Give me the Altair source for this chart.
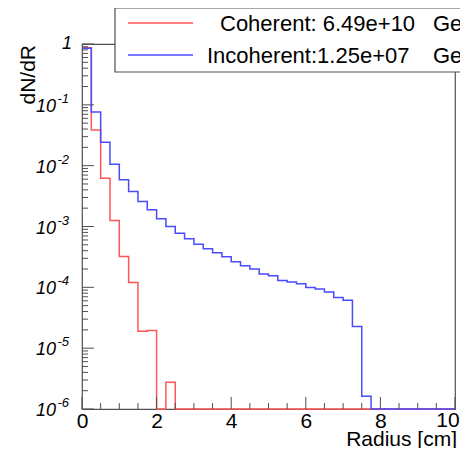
import altair as alt
import pandas as pd

# ---- data (bin width 0.25 cm, 0..10 cm) ----
bin_edges = [0.0, 0.25, 0.5, 0.75, 1.0, 1.25, 1.5, 1.75, 2.0, 2.25, 2.5, 2.75, 3.0, 3.25,
             3.5, 3.75, 4.0, 4.25, 4.5, 4.75, 5.0, 5.25, 5.5, 5.75, 6.0, 6.25, 6.5, 6.75,
             7.0, 7.25, 7.5, 7.75, 8.0, 8.25, 8.5, 8.75, 9.0, 9.25, 9.5, 9.75, 10.0]
coherent = [0.87, 0.0387, 0.00623, 0.00126, 3.21e-4, 1.20e-4, 1.89e-5, 1.96e-5, 0, 2.75e-6,
            0, 0, 0, 0, 0, 0, 0, 0, 0, 0,
            0, 0, 0, 0, 0, 0, 0, 0, 0, 0,
            0, 0, 0, 0, 0, 0, 0, 0, 0, 0]
incoherent = [0.85, 0.0764, 0.0242, 0.0106, 0.00585, 0.00376, 0.00258, 0.00188, 0.00134, 0.00100,
              7.73e-4, 6.28e-4, 5.10e-4, 4.30e-4, 3.70e-4, 3.18e-4, 2.63e-4, 2.26e-4, 2.00e-4, 1.65e-4,
              1.55e-4, 1.30e-4, 1.22e-4, 1.15e-4, 9.95e-5, 9.37e-5, 8.37e-5, 6.83e-5, 6.13e-5, 2.28e-5,
              1.62e-6, 0, 0, 0, 0, 0, 0, 0, 0, 0]
x_tick_labels = [0, 2, 4, 6, 8, 10]
x_minor_ticks = [0.5, 1.0, 1.5, 2.5, 3.0, 3.5, 4.5, 5.0, 5.5, 6.5, 7.0, 7.5, 8.5, 9.0, 9.5]
y_decades = [1, 1e-1, 1e-2, 1e-3, 1e-4, 1e-5, 1e-6]
y_exponents = ["", "-1", "-2", "-3", "-4", "-5", "-6"]
y_floor = 1e-6

legend_labels = ["Coherent: 6.49e+10", "Incoherent:1.25e+07"]

FONT = "Liberation Sans, Arial, Helvetica, sans-serif"
W, H = 373, 365
RED = "#ff5656"
BLUE = "#4a4aff"
AX = "#505050"


def hist_frame(vals, name):
    ys = [max(v, y_floor) for v in vals] + [max(vals[-1], y_floor)]
    return pd.DataFrame({"x": bin_edges, "y": ys, "s": name})


xscale = alt.Scale(domain=[0, 10], nice=False, zero=False)
yscale = alt.Scale(type="log", domain=[1e-6, 1], nice=False)

red_df = hist_frame(coherent, "Coherent")
blue_df = hist_frame(incoherent, "Incoherent")

x_axis = alt.Axis(values=x_tick_labels[:-1], format="d", ticks=False, domain=False, grid=False,
                  labelFontSize=21, labelFont=FONT, labelColor="black", labelPadding=1,
                  title=None, labelFlush=False)
y_axis = alt.Axis(labels=False, ticks=False, domain=False, grid=False, title=None)

red_line = alt.Chart(red_df).mark_line(interpolate="step-after", color=RED, strokeWidth=1.5).encode(
    x=alt.X("x:Q", scale=xscale, axis=x_axis),
    y=alt.Y("y:Q", scale=yscale, axis=y_axis),
)
blue_line = alt.Chart(blue_df).mark_line(interpolate="step-after", color=BLUE, strokeWidth=1.5).encode(
    x=alt.X("x:Q", scale=xscale),
    y=alt.Y("y:Q", scale=yscale),
)

# last x label, nudged inward as in the reference
last_lab = alt.Chart(pd.DataFrame({"v": x_tick_labels[-1:]})).mark_text(
    align="center", baseline="top", fontSize=21, font=FONT, color="black", dx=-7
).encode(x=alt.X("v:Q", scale=xscale), y=alt.value(H + 1), text="v:N")

# inside ticks
y_minor = []
for d in y_decades[1:]:
    for k in range(2, 10):
        y_minor.append(k * d)
ymaj_df = pd.DataFrame({"v": y_decades})
ymin_df = pd.DataFrame({"v": y_minor})
ymaj = alt.Chart(ymaj_df).mark_rule(color=AX, strokeWidth=1).encode(
    y=alt.Y("v:Q", scale=yscale), x=alt.value(0), x2=alt.value(12))
ymin = alt.Chart(ymin_df).mark_rule(color=AX, strokeWidth=1).encode(
    y=alt.Y("v:Q", scale=yscale), x=alt.value(0), x2=alt.value(6))
xmaj = alt.Chart(pd.DataFrame({"v": x_tick_labels})).mark_rule(color=AX, strokeWidth=1).encode(
    x=alt.X("v:Q", scale=xscale), y=alt.value(H), y2=alt.value(H - 12))
xmin = alt.Chart(pd.DataFrame({"v": x_minor_ticks})).mark_rule(color=AX, strokeWidth=1).encode(
    x=alt.X("v:Q", scale=xscale), y=alt.value(H), y2=alt.value(H - 6))

# y tick labels: "1" and 10^-k
lab_df = pd.DataFrame({"v": y_decades, "e": y_exponents})
one_lab = alt.Chart(lab_df).transform_filter("datum.e == ''").mark_text(
    align="right", baseline="middle", fontSize=18, font=FONT, fontStyle="italic", color="black"
).encode(y=alt.Y("v:Q", scale=yscale), x=alt.value(-10), text=alt.value("1"))
ten_lab = alt.Chart(lab_df).transform_filter("datum.e != ''").mark_text(
    align="right", baseline="middle", fontSize=18, font=FONT, fontStyle="italic", color="black", dy=2
).encode(y=alt.Y("v:Q", scale=yscale), x=alt.value(-26), text=alt.value("10"))
exp_lab = alt.Chart(lab_df).transform_filter("datum.e != ''").mark_text(
    align="right", baseline="middle", fontSize=13, font=FONT, fontStyle="italic", color="black", dy=-6
).encode(y=alt.Y("v:Q", scale=yscale), x=alt.value(-13), text="e:N")

one = pd.DataFrame({"a": [0]})
xtitle = alt.Chart(one).mark_text(align="right", baseline="alphabetic", fontSize=21, font=FONT,
                                  color="black").encode(
    x=alt.value(W + 2), y=alt.value(H + 37), text=alt.value("Radius [cm]"))
ytitle = alt.Chart(one).mark_text(align="right", baseline="alphabetic", fontSize=21, font=FONT,
                                  color="black", angle=270).encode(
    x=alt.value(-47), y=alt.value(1), text=alt.value("dN/dR"))

# legend box
leg_box = alt.Chart(one).mark_rect(fill="white", stroke=AX, strokeWidth=1.2).encode(
    x=alt.value(33), x2=alt.value(430), y=alt.value(-36), y2=alt.value(28))
leg_red = alt.Chart(one).mark_rule(color=RED, strokeWidth=1.5).encode(
    x=alt.value(46), x2=alt.value(111), y=alt.value(-21))
leg_blue = alt.Chart(one).mark_rule(color=BLUE, strokeWidth=1.5).encode(
    x=alt.value(46), x2=alt.value(111), y=alt.value(11))
leg_t1 = alt.Chart(one).mark_text(align="left", baseline="middle", fontSize=22, font=FONT,
                                  color="black").encode(
    x=alt.value(138), y=alt.value(-20), text=alt.value(legend_labels[0]))
leg_t2 = alt.Chart(one).mark_text(align="left", baseline="middle", fontSize=22, font=FONT,
                                  color="black").encode(
    x=alt.value(125), y=alt.value(12), text=alt.value(legend_labels[1]))
leg_g1 = alt.Chart(one).mark_text(align="left", baseline="middle", fontSize=22, font=FONT,
                                  color="black").encode(
    x=alt.value(351), y=alt.value(-20), text=alt.value("GeV"))
leg_g2 = alt.Chart(one).mark_text(align="left", baseline="middle", fontSize=22, font=FONT,
                                  color="black").encode(
    x=alt.value(351), y=alt.value(12), text=alt.value("GeV"))

chart = alt.layer(
    red_line, blue_line, ymaj, ymin, xmaj, xmin, last_lab, one_lab, ten_lab, exp_lab, xtitle, ytitle,
    leg_box, leg_red, leg_blue, leg_t1, leg_t2, leg_g1, leg_g2
).properties(
    width=W, height=H,
    autosize=alt.AutoSizeParams(type="none"),
    padding={"left": 74, "top": 36, "right": 5, "bottom": 39},
    background="white",
).configure_view(stroke=AX, strokeWidth=1.2)

chart.save("out.html", embed_options={"renderer": "svg", "actions": False})
